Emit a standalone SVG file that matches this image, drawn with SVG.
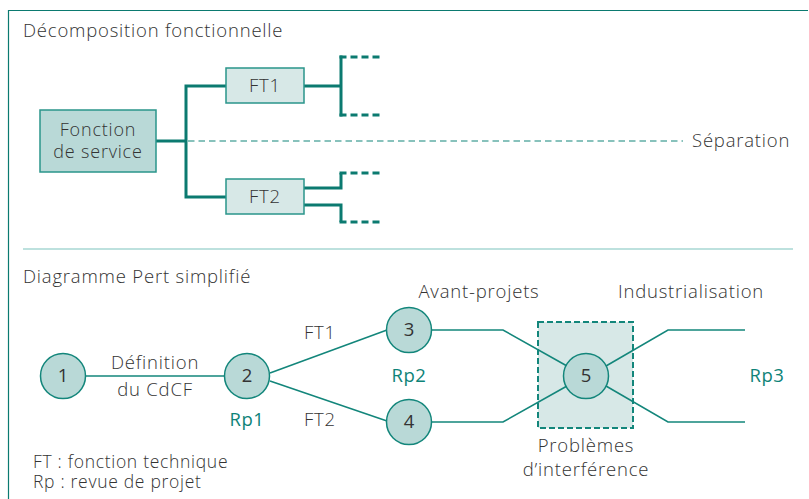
<svg xmlns="http://www.w3.org/2000/svg" width="809" height="499" viewBox="0 0 809 499">
  <defs>
    <style>
      text { font-family: "Open Sans", "Noto Sans", "Liberation Sans", sans-serif; font-size: 18.5px; font-weight: 300; letter-spacing: 0.8px; fill: #333333; }
      .mid { text-anchor: middle; }
      .box { font-size: 18px; }
      .legend { font-size: 17.5px; letter-spacing: 0.7px; }
      .rp { fill: #0e8378; font-weight: 400; letter-spacing: 0.5px; }
      .num { font-weight: 400; letter-spacing: 0; }
      .thick { fill: none; stroke: #0b7a70; stroke-width: 3; }
      .thickdash { fill: none; stroke: #0b7a70; stroke-width: 3; stroke-dasharray: 7 4; }
      .thin { fill: none; stroke: #13867b; stroke-width: 1.6; }
      .sep { fill: none; stroke: #13867b; stroke-width: 1.2; stroke-dasharray: 6.5 4; }
      .main { fill: #b9d9d7; stroke: #2a958b; stroke-width: 1.5; }
      .sub { fill: #d7e8e7; stroke: #2a958b; stroke-width: 1.5; }
      .node { fill: #b9d9d7; stroke: #13867b; stroke-width: 1.5; }
    </style>
  </defs>

  <!-- frame and section divider -->
  <rect width="809" height="499" fill="#ffffff"/>
  <path d="M8.5 499 V10.5 H808" fill="none" stroke="#0b7a70" stroke-width="1.2"/>
  <line x1="23" y1="249" x2="793" y2="249" stroke="#7cc4bd" stroke-width="1.2"/>

  <!-- section titles -->
  <text x="23" y="37">Décomposition fonctionnelle</text>
  <text x="23" y="283">Diagramme Pert simplifié</text>

  <!-- functional decomposition connectors -->
  <g id="decomposition-connectors">
    <path class="sep" d="M188 141 H683"/>
    <path class="thick" d="M156 141 H186 M186 86 V197 M184.5 86 H226 M184.5 197 H226"/>
    <path class="thick" d="M304 86 H341 M341 55.5 V116.5"/>
    <path class="thickdash" d="M339.5 57 H382 M339.5 115 H382"/>
    <path class="thick" d="M304 188 H341 V173 M304 205 H341 V222"/>
    <path class="thickdash" d="M339.5 173 H382 M339.5 222 H382"/>
  </g>

  <g id="fonction-service">
    <rect class="main" x="40" y="110" width="116" height="62"/>
    <text class="mid box" x="98" y="136">Fonction</text>
    <text class="mid box" x="98" y="158">de service</text>
  </g>
  <g id="ft1-box">
    <rect class="sub" x="226" y="68" width="78" height="35"/>
    <text class="mid" x="265" y="92">FT1</text>
  </g>
  <g id="ft2-box">
    <rect class="sub" x="226" y="179" width="78" height="35"/>
    <text class="mid" x="265" y="203">FT2</text>
  </g>
  <text x="692" y="147">Séparation</text>

  <!-- Pert diagram -->
  <g id="interference-zone">
    <rect x="538" y="322" width="95" height="106" fill="#d7e8e7" stroke="#13867b" stroke-width="2" stroke-dasharray="6 3"/>
  </g>

  <g id="pert-connectors">
    <path class="thin" d="M85 376 H224"/>
    <path class="thin" d="M270 373 L387 330"/>
    <path class="thin" d="M270 381 L387 421"/>
    <path class="thin" d="M432 330 H503 L567 366"/>
    <path class="thin" d="M432 422 H503 L567 386"/>
    <path class="thin" d="M606 366 L668 330 H745"/>
    <path class="thin" d="M606 386 L668 422 H745"/>
  </g>

  <g id="n1">
    <circle class="node" cx="63" cy="376" r="22.5"/>
    <text class="mid num" x="63" y="382">1</text>
  </g>
  <g id="n2">
    <circle class="node" cx="247" cy="376" r="22.5"/>
    <text class="mid num" x="247" y="382">2</text>
  </g>
  <g id="n3">
    <circle class="node" cx="409" cy="330" r="22.5"/>
    <text class="mid num" x="409" y="336">3</text>
  </g>
  <g id="n4">
    <circle class="node" cx="409" cy="422" r="22.5"/>
    <text class="mid num" x="409" y="428">4</text>
  </g>
  <g id="n5">
    <circle class="node" cx="586" cy="376" r="22.5"/>
    <text class="mid num" x="586" y="382">5</text>
  </g>

  <!-- labels -->
  <text class="mid" x="155" y="369">Définition</text>
  <text class="mid" x="155" y="396">du CdCF</text>
  <text class="mid" x="320" y="339">FT1</text>
  <text class="mid" x="320" y="426">FT2</text>
  <text class="mid rp" x="247" y="426">Rp1</text>
  <text class="mid rp" x="409" y="382">Rp2</text>
  <text class="mid rp" x="767" y="382">Rp3</text>
  <text class="mid" x="479" y="298">Avant-projets</text>
  <text class="mid" x="691" y="298">Industrialisation</text>
  <text class="mid" x="586" y="452">Problèmes</text>
  <text class="mid" x="586" y="476">d’interférence</text>
  <text class="legend" x="33" y="468">FT : fonction technique</text>
  <text class="legend" x="33" y="488">Rp : revue de projet</text>
</svg>
